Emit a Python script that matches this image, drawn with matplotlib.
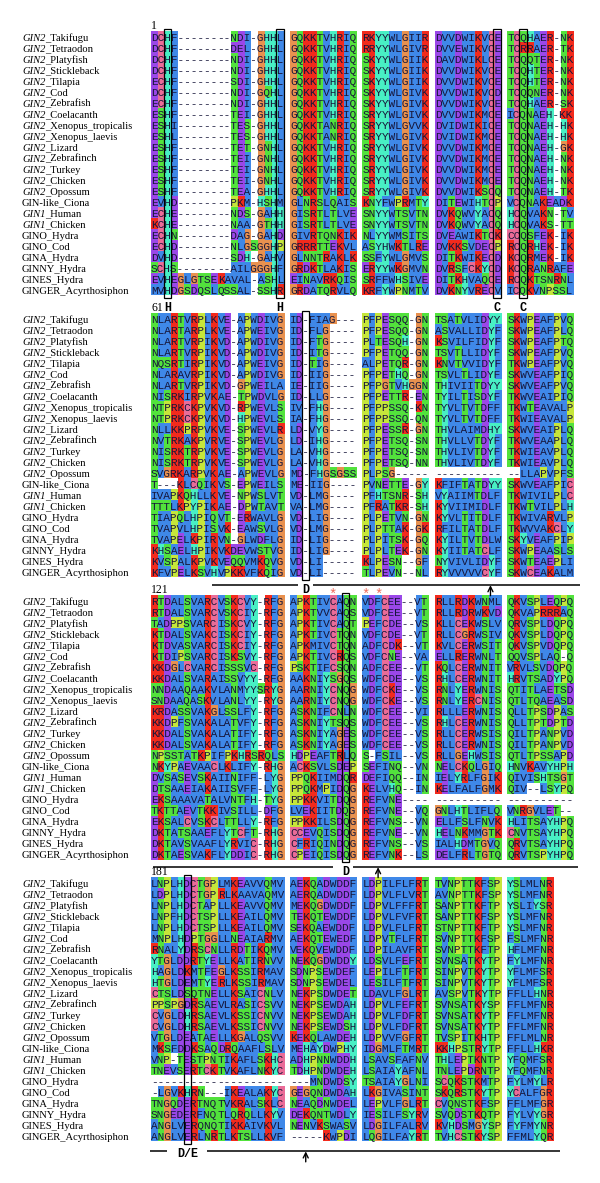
import numpy as np
import matplotlib
matplotlib.use("Agg")
import matplotlib.pyplot as plt
from matplotlib.colors import to_rgb
from matplotlib.patches import Rectangle

names = ["GIN2_Takifugu", "GIN2_Tetraodon", "GIN2_Platyfish", "GIN2_Stickleback",
         "GIN2_Tilapia", "GIN2_Cod", "GIN2_Zebrafish", "GIN2_Coelacanth",
         "GIN2_Xenopus_tropicalis", "GIN2_Xenopus_laevis", "GIN2_Lizard",
         "GIN2_Zebrafinch", "GIN2_Turkey", "GIN2_Chicken", "GIN2_Opossum",
         "GIN-like_Ciona", "GIN1_Human", "GIN1_Chicken", "GINO_Hydra", "GINO_Cod",
         "GINA_Hydra", "GINNY_Hydra", "GINES_Hydra", "GINGER_Acyrthosiphon"]

block1 = [
    "DCHF------ --NDI-GHHL GQKKTVHRIQ RKYYWLGIIR DVVDWIKVCE TCQHAER-NK",
    "DCHF------ --DEL-GHHL GQKKTVHRIQ RRYYWLGIVR DVVEWIKVCE TCRRAER-TK",
    "DCHF------ --NDI-GHHL GQKKTVHRIQ SKYYWLGIIK DAVDWIKLCE TCQQTER-NK",
    "DCHF------ --NDI-GHHL GQKKTVHRIQ SKYYWLGIIK DVVDWIKVCE TCQHTER-NK",
    "ECHF------ --SDI-GHHL GQKKTVHRIQ SKYYWLGIIK DVVDWIKVCE TCQHTER-NK",
    "DCHF------ --NDI-GQHL GQKKTVHRIQ SKYYWLGIVK DVVDWIKVCD TCQQNER-NK",
    "ECHF------ --NDI-GHHL GQKKTVHRIQ SKYYWLGIVK DVVDWIKVCE TCQHAER-SK",
    "ESHF------ --TEI-GHHL GQKKTVHRIQ SRYYWLGIVK DVVDWIKMCE ICQNAEH-KK",
    "ESHI------ --TES-GHHL GQKKTANRIQ SRYYWLGVVK DVIDWIKICE TCQNAEH-HK",
    "ESHL------ --TES-GHHL GQKKTANRIQ SRYYWLGIVK DVIDWIKMCE TCQNAEH-HK",
    "ESHF------ --TET-GNHL GQKKTVHRIQ SRYYWLGIVK DVVDWIKMCE TCQNAEH-GK",
    "ESHF------ --TEI-GNHL GQKKTVHRIQ SRYYWLGIVK DVVDWIKMCE TCQNAEH-NK",
    "ESHF------ --TEI-GNHL GQKKTVHRIQ SRYYWLGIVK DVVDWIKMCE TCQNAEH-NK",
    "ESHF------ --TEI-GNHL GQKKTVHRIQ SRYYWLGIVK DVVDWIKMCE TCQNAEH-NK",
    "ESHF------ --TEA-GHHL GQKKTVHRIQ SRYYWLGIVK DVVDWIKSCQ TCQNAEH-TK",
    "EVHD------ --PKM-HSHM GLNRSLQAIS KNYFWPRMTY DITEWIHTCP VCQNAKEADK",
    "ECHE------ --NDS-GAHH GISRTLTLVE SNYYWTSVTN DVKQWVYACQ HCQVAKN-TV",
    "KCHE------ --NAA-GTHH GISRTLTLVE SNYYWTSVTN DVKQWVYACQ HCQVAKS-TT",
    "ECHN------ --DAG-GAHD GIVRTQNKIK NLYYWMSITS DVEAWIKTCK CCQSFEK-IK",
    "ECHD------ --NLGSGGHP GRRRTTEKVL ASYHWKTLRE DVKKSVDECP RCQRHEK-IK",
    "DVHD------ --SDH-GAHV GLNNTRAKLK SSFYWLGMVS DITKWIKECD KCQRMEK-IK",
    "SCHS------ --AILGGGHF GRDKTLAKIS ERYYWKGMVN DVRSFCKYCD KCQRANRAFE",
    "EVHEGLGTSE KAVAL-ASHL EINAVRKQIS SRFFWHSIVE DITKHVAQCE RCQKTSNRNL",
    "MVHDGSDQSL QSSAL-SSHR GRDATQRVLQ KRFYWPNMTV DVKNYVRECV ICQKVNPSSL",
]

block2 = [
    "NLARTVRPLK VE-APWDIVG ID-FIAG--- PFPESQQ-GN TSATVLIDYY SKWPEAFPVQ",
    "NLARTARPLK VE-APWEIVG ID-FLG---- PFPESQQ-GN ASVALLIDYF SKWPEAFPLQ",
    "NLARTVRPIK VD-APWDIVG ID-FTG---- PLTESQH-GN KSVILFIDYF SKWPEAFPTQ",
    "NLARTVRPIK VD-APWDIVG ID-ITG---- PFPETQQ-GN TSVTLLIDYF SKWPEAFPVQ",
    "NQSRTIRPIK VD-APWEIVG ID-TIG---- ALPETQR-GN KNVTVVIDYF TKWPEAFPVQ",
    "NLARAVRPIK VD-APWDIVG ID-IIG---- PFPETHQ-GN TSVLTLIDYF SKWVEAFPIQ",
    "NLARTVRPIK VD-GPWEILA IE-IIG---- PFPGTVHGGN THIVIITDYY SKWVEAFPVQ",
    "NISRKIRPVK AE-TPWDVLG ID-LLG---- PFPETTR-EN TYILTISDYF TKWVEAIPIQ",
    "NTPRKCKPVK VD-RPWEVLS IV-FHG---- PFPPSSQ-KN TYVLTVTDFF TKWTEAVALP",
    "NTPRKCKPVK VD-HPWEVLS IA-FHG---- PFPPSSQ-QN TYVLTVTDFF TKWIEAVALP",
    "NLLKKPRPVK VE-SPWEVLR LD-VYG---- PFPESSR-GN THVLAIMDHY SKWVEAIPLQ",
    "NVTRKAKPVR VE-SPWEVLG LD-IHG---- PFPETSQ-SN THVLLVTDYF TKWVEAAPLQ",
    "NISRKTRPVK VE-SPWEVLG LA-VHG---- PFPETSQ-SN THVLIVTDYF TKWIEAVPLQ",
    "NISRKTRPVK VE-SPWEVLG LA-VHG---- PFPETSQ-NN THVLIVTDYF TKWIEAVPLQ",
    "SVGRKARPVK AE-APWEVLG MD-FHGSGSS PLPSG----- ---------- --LLAPVPFS",
    "T---KLCQIK VS-EPWEILS ME-IIG---- PVNETTE-GY KFIFTATDYY SKWVEAFPIC",
    "IVAPKQHLLK VE-NPWSLVT VD-LMG---- PFHTSNR-SH VYAIIMTDLF TKWIVILPLC",
    "TTTLKPYPIK AE-DPWTAVT VA-LMG---- PFRATKR-SH KYVIIMIDLF TKWTVILPLH",
    "TIAPQLHPIQ VT-ERWAVLG VD-LIG---- PLPETVN-GN KYVLTITDLF TKWIVARVLP",
    "TVAPVLHPIS VK-EAWSVLG VD-LMG---- PLPTTAK-GK RFILTATDLF TKWVVAKCLY",
    "TVAPELKPIR VN-GLWDFLG ID-LIG---- PLPITSK-GQ KYILTVTDLW SKYVEAFPIP",
    "KHSAELHPIK VKDEVWSTVG ID-LIG---- PLPLTEK-GN KYIITATCLF SKWPEAASLS",
    "KVSPALKPVK VEQQVMKQVG VD-LI----- KLPESN--GF NYVIVLIDYF SKWTEAEPLI",
    "KFVPELKSVH VPKKVFKQIG VD-LI----- TLPEVN--NL RYVVVVVCYF SKWCEAKALM",
]

block3 = [
    "RTDALSVARC VSKCVY-RFG APKTIVCAQN VDFCEE--VT RLLRDKWNML QKVSPLEQPQ",
    "RTDALSVARC VSKCIY-RFG APKTVVCAQS VDFCEE--VT RLLRDRWKVD QKVAPRRRAQ",
    "TADPPSVARC ISKCVY-RFG APKTIVCAQT PEFCDE--VS KLLCEKWSLV QRVSPLDQPQ",
    "KTDALSVAKC ISKCIY-RFG APKTIVCTQN VDFCDE--VT RLLCGRWSIV QKVSPLDQPQ",
    "KTDVASVARC ISKCIY-RFG APKMIVCTQN ADFCDK--VT KVLCERWSIT QKVSPVDQPQ",
    "KTDIPSVARC ISKSVY-RFG APKTIVCRQS VDFCNE--VA ELLRERWNLT QQVSPLAQ-Q",
    "KKDGLCVARC ISSSVC-RFG PSKTIFCSQN ADFCEE--VT KQLCERWNIT VRVLSVDQPQ",
    "KKDALSVARA ISSVYY-RFG AAKNIYSGQS WDFCDE--VS RHLCERWNIT HRVTSADYPQ",
    "NNDAAQAAKV LANMYYSRYG AARNIYCNQG WDFCKE--VS RNLYERWNIS QTITLAETSD",
    "SNDAAQASKV LANLYY-RYG AARNIYCNQG WDFCKE--VS RNLYERCNIS QTLTQAEASD",
    "KRDASSVAKG LSSLFY-RFG ASKNIFCNLN WDFCEE--VI RLLLERWNIS QLLTPSDPAS",
    "KKDPFSVAKA LATVFY-RFG ASKNIYTSQS WDFCEE--VS RHLCERWNIS QLLTPTDPTD",
    "KKDALSVAKA LATIFY-RFG ASKNIYAGES WDFCEE--VS RLLCERWSIS QILTPANPVD",
    "KKDALSVAKA LATIFY-RFG ASKNIYAGES WDFCEE--VS RLLCERWNIS QILTPANPVD",
    "NPSSTATKPI FPKHRSRQLS HDPEAFTRLQ S-FSIL--VS RLLGEHWSIS QTLTPSSAPD",
    "NKYPAEVAAC LKLIFY-RHG ACKSVLSDEP SEFINQ--VN NELCKQLGIQ HNVKAVYHPH",
    "DVSASEVSKA IINIFF-LYG PPQKIIMDQR DEFIQQ--IN IELYRLFGIK QIVISHTSGT",
    "DTSAAEIAKA IISVFF-LYG PPQKMPIDQG KELVHQ--IN KELFALFGMK QIV--LSYPQ",
    "EKSAAAVATA LVNTFH-TYG PPKKVITDQG REFVNE---- ---------- ----------",
    "TKTTAEVTKK IVSILL-DFG LVEKIITDQG REFVNE--VQ GNLHTLIFLQ VNRGVLET--",
    "EKSALCVSKC LTTLLY-RFG PPKKILSDQG REFVNS--VN ELLFSLFNVK HLITSAYHPQ",
    "DKTATSAAEF LYTCFT-RHG CCEVQISDQG REFVNE--VN HELNKMMGTK CNVTSAYHPQ",
    "DKTAVSVAAF LYRVIC-RHG CFRIQINDQG REFVNS--VS IALHDMTGVQ QRVTSAYHPQ",
    "DKTAESVAKF LYDDIC-RHG CPEIQISDQG REFVNK--LS DELFRLTGTQ QRVTSPYHPQ",
]

block4 = [
    "LNPLHDCTGP LMKEAVVQMV AEKQADWDDF LDPILFLFRT TVNPTTKFSP YSLMLNR",
    "LDPLHDCTGP RLKAAVAQMV AERQADWDDF LDPVLFLVRT AVNPTTKFSP YSLMFNR",
    "LNPLHDCTAP LLKEAVVQMV MEKQGDWDDF LDPVLFFFRT SANPTTKFTP YSLIYSR",
    "LNPFHDCTSP LLKEAILQMV TEKQTEWDDF LDPVLFVFRT SANPTTKFSP YSLMFNR",
    "LNPLHDCTSP LLKEAILQMV SEKQAEWDDF LDPVLFLFRT STNPTTKFTP YSLMFNR",
    "MNPLHDPTGG LLNEAIARMV AEKQTEWEDF LDPVTFLFRT SVNPTTKFSP FSLMFNR",
    "RNALYDRSCN LLRDTIKQMV VEKQVEWDDF LDPILAVFRT SVNPTTKFTP HFLMFNR",
    "YTGLDDRTYE LLKATIRNVV NEKQGDWDDY LDSVLFEFRT SVNSATKYTP FYLMFNR",
    "HAGLDKMTFE GLKSSIRMAV SDNPSEWDEF LEPILFTFRT SINPVTKYTP YFLMFSR",
    "HTGLDEMTYE RLKSSIRMAV SDNPSEWDEL LESILFTFRT SINPVTKYTP YFLMFSR",
    "CTSLDSQTNE LLKSAICNLV NEKPSDWDET LDAVLFGLRT AVSPVTKYTP FFLLHNR",
    "PPSPGDRSAE VLRASICSVV NEKPSEWDAH LDPVLFEFRT SVNSATKYSP FFLMFNR",
    "CVGLDHRSAE VLKSSICNVV NEKPSEWDAH LDPVLFDFRT SVNSATKYTP FFLMFNR",
    "CVGLDHRSAE VLKSSICNVV NEKPSEWDSH LDPVLFDFRT SVNSATKYTP FFLMFNR",
    "VTGLDEATAE LLKGALQSVV KEKQLAWDEH LDPVVFGFRT TVSPITKHTP FFLMLNR",
    "MKSFDDKSAQ DRQAAFLSLV MEHAYDWPHY IDGMLFTMRT KKHPSTRYTP FFLLHKR",
    "VNP-TESTPN TIKAFLSKHC ADHPNNWDDH LSAVSFAFNV THLEPTKNTP YFQMFSR",
    "TNEVSERTCK TVKAFLNKYC TDHPNDWDEH LSAIAYAFNL TNLEPDRNTP YFQMFNR",
    "---------- ---------- ---MNDWDSY TSAIAYGLNI SCQKSTKMTP FYLMYLR",
    "-LGVKHRN-- -IKEALAKYC GEGQNDWDAH LKGIVASINT SKQRSTKYTP YCALFGR",
    "TNGQDERTNQ TVKRALSKLC NEAQDNWDEL LEPVLFGLRT CVQNSTKFSP FFLMFGR",
    "SNGEDERFNQ TLQRQLLKYV DEKQNTWDLY IESILFSYRV SVQDSTKQTP FYLVYGR",
    "ANGLVERQNQ TIKKAIVKVL NENVKSWASV LDGILFALRV KVHDSMGYSP FYFMYNR",
    "ANGLVERLNR TLKTSLLKVF -----KWPDI LQGILFAYRT TVHCSTKYSP FFMLYQR",
]

block_starts = ["1", "61", "121", "181"]
box_cols = [[2, 18, 48, 51], [21], [27], [5]]
box_labels = [["H", "H", "C", "C"], ["D"], ["D"], ["D/E"]]
underline_spans = [[], [(9.1, 20.4), (22.6, 60)], [(0.3, 25.6), (28.6, 59.7)],
                   [(-0.2, 2.4), (8.4, 57)]]
underline_rows = [None, 24.2, 24.2, 24.4]
arrow_cols = [[], [47], [31], [21]]
star_block = 2
star_cols = [25, 30, 31]

residue_colors = {}
for aa in "AILMFWV":
    residue_colors[aa] = "#3f88e8"
for aa in "KR":
    residue_colors[aa] = "#f22a1c"
for aa in "DE":
    residue_colors[aa] = "#9a47e8"
for aa in "STNQ":
    residue_colors[aa] = "#52e23c"
residue_colors["G"] = "#e8914f"
residue_colors["P"] = "#c6e63a"
for aa in "HY":
    residue_colors[aa] = "#48efc4"
residue_colors["C"] = "#ea6c98"
GAP_COLOR = "#ffffff"
TXT = "#16163a"

# ---- layout ----
W, H = 600, 1183
PX = 100 * 8 / 72 * 0.6     # pixels per alignment column (Liberation Mono 8pt advance)
PY = 11.0                   # pixels per sequence row
X_ORIGIN, Y_ORIGIN = 151, 37
GAP = 0.855                 # gap between groups of 10, in column units
BLOCK_STEP = 282 / PY       # rows between block starts
LABEL_X = -19.35
LABEL_SIZE = 7.6

fig = plt.figure(figsize=(W / 100, H / 100), dpi=100)
ax = fig.add_axes([0, 0, 1, 1])


def xpos(c):
    g = int(np.floor(min(max(c, 0) - 1e-9, 59.999))) // 10 if c > 0 else 0
    return c + max(g, 0) * GAP


blocks = [[s.replace(" ", "") for s in b] for b in (block1, block2, block3, block4)]

for b, rows in enumerate(blocks):
    base = b * BLOCK_STEP
    ncol = len(rows[0])
    for g0 in range(0, ncol, 10):
        g1 = min(g0 + 10, ncol)
        img = np.ones((len(rows), g1 - g0, 3))
        for r, seq in enumerate(rows):
            for j, ch in enumerate(seq[g0:g1]):
                img[r, j] = to_rgb(residue_colors.get(ch, GAP_COLOR))
        x0 = xpos(g0)
        ax.imshow(img, extent=(x0, x0 + (g1 - g0), base + len(rows) - 0.5, base - 0.5),
                  interpolation="nearest", aspect="auto", zorder=1)
        for r, seq in enumerate(rows):
            ax.text(x0, base + r + 0.33, seq[g0:g1], family="Liberation Mono", size=8,
                    ha="left", va="baseline", color=TXT, zorder=3)
    # block start number
    ax.text(0, base - 1.0, block_starts[b], family="Liberation Serif", size=8.5,
            ha="left", va="center", color="black")
    # sequence names
    for r, name in enumerate(names):
        if name.startswith(("GIN2", "GIN1")):
            pre, rest = name[:4], name[4:]
            t = ax.text(LABEL_X, base + r + 0.33, pre, family="Liberation Serif",
                        style="italic", size=LABEL_SIZE, ha="left", va="baseline",
                        color="black")
            ax.annotate(rest, xy=(1, 0), xycoords=t, family="Liberation Serif",
                        size=LABEL_SIZE, ha="left", va="bottom", color="black")
        else:
            ax.text(LABEL_X, base + r + 0.33, name, family="Liberation Serif",
                    size=LABEL_SIZE, ha="left", va="baseline", color="black")
    # boxed columns and their labels
    for c, lab in zip(box_cols[b], box_labels[b]):
        ax.add_patch(Rectangle((xpos(c) - 0.05, base - 0.75), 1.1, 24.5, fill=False,
                               ec="black", lw=0.9, zorder=4))
        ax.text(xpos(c) + 0.5, base + 24.6, lab, family="Liberation Mono",
                weight="bold", size=8.5, ha="center", va="center", color="black")
    # underlines
    for (a, e) in underline_spans[b]:
        ax.plot([xpos(a), xpos(e)], [base + underline_rows[b]] * 2, color="black",
                lw=1.1, solid_capstyle="butt")
    for c in arrow_cols[b]:
        xc = xpos(c) + 0.5
        ax.annotate("", xy=(xc, base + underline_rows[b]),
                    xytext=(xc, base + underline_rows[b] + 0.95),
                    arrowprops=dict(arrowstyle="->", lw=1.0, color="black",
                                    mutation_scale=9, shrinkA=0, shrinkB=0))

base = star_block * BLOCK_STEP
for c in star_cols:
    ax.text(xpos(c) + 0.5, base - 0.6, "*", family="Liberation Mono", size=10,
            ha="center", va="center", color="#f06a5a")

ax.set_xlim(-X_ORIGIN / PX, (W - X_ORIGIN) / PX)
ax.set_ylim((H - Y_ORIGIN) / PY, -Y_ORIGIN / PY)
ax.axis("off")
fig.savefig("out.png", dpi=100, facecolor="white")
